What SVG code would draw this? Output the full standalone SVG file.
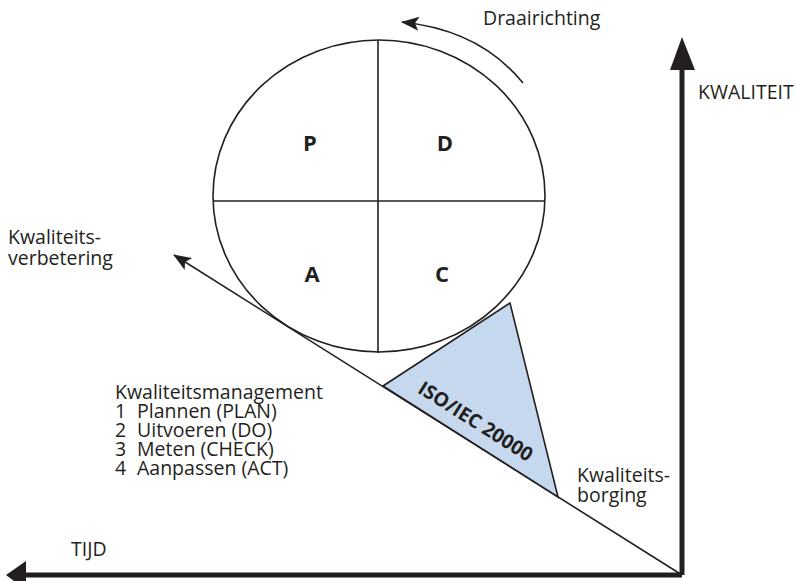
<svg xmlns="http://www.w3.org/2000/svg" width="795" height="581" viewBox="0 0 795 581">
  <style>
    text { font-family: "Open Sans", "Noto Sans", "Liberation Sans", sans-serif; fill: #231f20; font-size: 19.5px; }
    .big { font-weight: bold; font-size: 22px; text-anchor: middle; }
    .thin { stroke: #231f20; stroke-width: 1.6; fill: none; }
    .axis { stroke: #231f20; stroke-width: 5; fill: none; }
  </style>
  <defs>
    <marker id="barbL" viewBox="0 0 18 14" refX="17" refY="7" markerWidth="18" markerHeight="14" markerUnits="userSpaceOnUse" orient="auto">
      <path d="M0,0 L18,7 L0,14 L4,7 Z" fill="#231f20"/>
    </marker>
  </defs>

  <g id="connectors">
    <!-- rotation direction -->
    <path class="thin" d="M523,83 Q480,30 402,22" marker-end="url(#barbL)"/>
    <!-- improvement slope -->
    <line class="thin" x1="682" y1="575" x2="174" y2="255" marker-end="url(#barbL)"/>
    <!-- axes -->
    <path class="axis" d="M682,575 L682,66"/>
    <polygon points="682,37 670,70 695,70" fill="#231f20"/>
    <path class="axis" d="M682,575 L24,575"/>
    <polygon points="6,575 26,561 26,590" fill="#231f20"/>
  </g>

  <g id="pdca">
    <ellipse class="thin" cx="379" cy="196" rx="166" ry="156"/>
    <line class="thin" x1="378" y1="40" x2="378" y2="353"/>
    <line class="thin" x1="213" y1="201" x2="545" y2="201"/>
    <text class="big" x="310" y="151">P</text>
    <text class="big" x="445" y="151">D</text>
    <text class="big" x="312" y="282">A</text>
    <text class="big" x="442" y="282">C</text>
  </g>

  <g id="iso">
    <polygon points="383,386 510,303 558,497" fill="#c5d8ee" stroke="#231f20" stroke-width="1.6"/>
    <text x="0" y="0" transform="translate(472,427) rotate(32.3)" style="font-weight:bold;font-size:19.5px;text-anchor:middle">ISO/IEC 20000</text>
  </g>

  <g id="labels">
    <text x="483" y="25">Draairichting</text>
    <text x="698" y="99">KWALITEIT</text>
    <text x="8" y="244">Kwaliteits-</text>
    <text x="8" y="265">verbetering</text>
    <text x="115" y="399">Kwaliteitsmanagement</text>
    <text x="115" y="418">1<tspan x="137">Plannen (PLAN)</tspan></text>
    <text x="115" y="437">2<tspan x="137">Uitvoeren (DO)</tspan></text>
    <text x="115" y="456">3<tspan x="137">Meten (CHECK)</tspan></text>
    <text x="115" y="475">4<tspan x="137">Aanpassen (ACT)</tspan></text>
    <text x="577" y="482">Kwaliteits-</text>
    <text x="577" y="502">borging</text>
    <text x="71" y="556">TIJD</text>
  </g>
</svg>
